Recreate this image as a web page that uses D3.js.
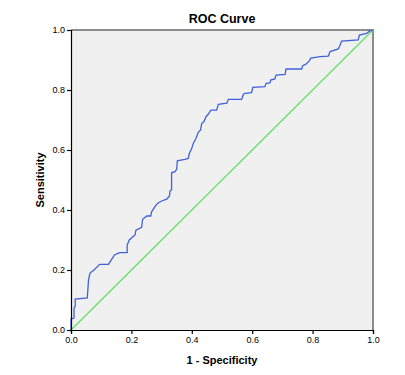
<!DOCTYPE html>
<html><head><meta charset="utf-8">
<script src="https://cdn.jsdelivr.net/npm/d3@7"></script>
<style>body{margin:0;background:#fff}svg{display:block}</style>
</head><body>
<script>
const fpr = [0,0,0.01,0.01,0.014,0.014,0.054,0.058,0.063,0.076,0.095,0.124,0.133,0.144,0.161,0.186,0.186,0.193,0.212,0.215,0.234,0.237,0.251,0.264,0.267,0.278,0.286,0.3,0.317,0.326,0.328,0.333,0.333,0.344,0.35,0.352,0.377,0.388,0.392,0.4,0.405,0.414,0.421,0.429,0.433,0.44,0.447,0.455,0.463,0.482,0.488,0.516,0.521,0.565,0.571,0.576,0.598,0.602,0.642,0.646,0.659,0.661,0.675,0.679,0.709,0.712,0.764,0.767,0.778,0.789,0.794,0.825,0.852,0.858,0.885,0.891,0.896,0.951,0.955,0.979,0.99,1];
const tpr = [0,0.037,0.04,0.073,0.08,0.103,0.107,0.167,0.19,0.2,0.219,0.219,0.233,0.25,0.258,0.258,0.283,0.3,0.317,0.333,0.342,0.369,0.38,0.38,0.394,0.411,0.422,0.43,0.436,0.447,0.464,0.467,0.524,0.528,0.536,0.564,0.569,0.572,0.589,0.606,0.622,0.639,0.658,0.667,0.689,0.694,0.711,0.72,0.733,0.733,0.752,0.756,0.769,0.769,0.786,0.789,0.791,0.809,0.811,0.822,0.824,0.833,0.837,0.85,0.852,0.87,0.87,0.881,0.886,0.897,0.906,0.911,0.913,0.928,0.937,0.95,0.963,0.967,0.983,0.989,0.997,1];
const refLine = [0, 1];
const ticks = [0, 0.2, 0.4, 0.6, 0.8, 1.0];
const title = "ROC Curve", xTitle = "1 - Specificity", yTitle = "Sensitivity";

const W = 405, H = 375;
const m = {l: 71, r: 32, t: 30, b: 45};
const svg = d3.select("body").append("svg").attr("width", W).attr("height", H);
const x = d3.scaleLinear().domain([0, 1]).range([m.l, W - m.r]);
const y = d3.scaleLinear().domain([0, 1]).range([H - m.b, m.t]);

svg.append("rect").attr("x", x(0)).attr("y", y(1)).attr("width", x(1) - x(0)).attr("height", y(0) - y(1)).attr("fill", "#f0f0f0");
// top and right frame
svg.append("path").attr("d", `M${x(0)},${y(1)}H${x(1)}V${y(0)}`).attr("fill", "none").attr("stroke", "#8c8c8c").attr("stroke-width", 2);

// diagonal reference
svg.append("line").attr("x1", x(refLine[0])).attr("y1", y(refLine[0])).attr("x2", x(refLine[1])).attr("y2", y(refLine[1]))
  .attr("stroke", "#5ee35e").attr("stroke-width", 1.2);

const pts = fpr.map((f, i) => [f, tpr[i]]);
svg.append("path").datum(pts).attr("fill", "none").attr("stroke", "#3f62dc").attr("stroke-width", 1.3)
  .attr("d", d3.line().x(d => x(d[0])).y(d => y(d[1])));

const fmt = d3.format(".1f");
const xa = svg.append("g").attr("transform", `translate(0,${y(0)})`).call(d3.axisBottom(x).tickValues(ticks).tickFormat(fmt).tickSize(4).tickPadding(3));
const ya = svg.append("g").attr("transform", `translate(${x(0)},0)`).call(d3.axisLeft(y).tickValues(ticks).tickFormat(fmt).tickSize(4).tickPadding(2));
[xa, ya].forEach(a => {
  a.selectAll("path,line").attr("stroke", "#000").attr("stroke-width", 1.2);
  a.selectAll("text").attr("font-family", "Liberation Sans, Arial, sans-serif").attr("font-size", 9).attr("fill", "#000");
});

svg.append("text").attr("x", (x(0) + x(1)) / 2).attr("y", 23).attr("text-anchor", "middle")
  .attr("font-family", "Liberation Sans, Arial, sans-serif").attr("font-size", 12.5).attr("font-weight", "bold").text(title);
svg.append("text").attr("x", (x(0) + x(1)) / 2).attr("y", 364).attr("text-anchor", "middle")
  .attr("font-family", "Liberation Sans, Arial, sans-serif").attr("font-size", 11).attr("font-weight", "bold").text(xTitle);
svg.append("text").attr("transform", `translate(44,${(y(0) + y(1)) / 2}) rotate(-90)`).attr("text-anchor", "middle")
  .attr("font-family", "Liberation Sans, Arial, sans-serif").attr("font-size", 11).attr("font-weight", "bold").text(yTitle);
</script>
</body></html>
